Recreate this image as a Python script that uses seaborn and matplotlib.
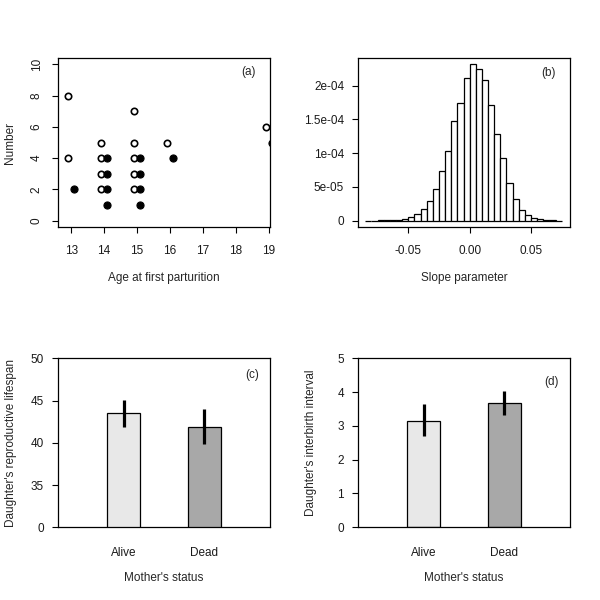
import numpy as np
import pandas as pd
import matplotlib
matplotlib.use("Agg")
import matplotlib.pyplot as plt
import seaborn as sns

sns.set_theme(style="ticks")
plt.rcParams['font.family'] = ['Liberation Sans', 'DejaVu Sans']

# ---- data ----
# (a) number vs age at first parturition
open_age = [12.9, 12.9, 13.9, 13.9, 13.9, 13.9, 14.9, 14.9, 14.9, 14.9, 14.9, 15.9, 18.9]
open_num = [8, 4, 5, 4, 3, 2, 7, 5, 4, 3, 2, 5, 6]
filled_age = [13.1, 14.1, 14.1, 14.1, 14.1, 15.1, 15.1, 15.1, 15.1, 16.1, 19.1]
filled_num = [2, 4, 3, 2, 1, 4, 3, 2, 1, 4, 5]

# (b) slope parameter histogram (bin width 0.005)
bin_edges = [round(-0.085 + 0.005 * i, 3) for i in range(33)]
bin_heights = [0.000005, 0.00001, 0.00002, 0.00004, 0.00008, 0.00015, 0.0003, 0.00054,
               0.00103, 0.00167, 0.00291, 0.00468, 0.00729, 0.01030, 0.01483, 0.01739,
               0.02108, 0.02315, 0.02251, 0.02079, 0.01709, 0.01281, 0.00931, 0.00557,
               0.00315, 0.00163, 0.00084, 0.00039, 0.00018, 0.00008, 0.00003, 0.00001]
bin_heights = [h * 1e-2 for h in bin_heights]

# (c), (d) daughters by mother's status
status = ["Alive", "Dead"]
lifespan = [43.5, 41.9]
lifespan_lo = [41.9, 39.9]
lifespan_hi = [45.1, 44.0]
interval = [3.15, 3.68]
interval_lo = [2.70, 3.32]
interval_hi = [3.64, 4.04]
bar_colors = ["#e8e8e8", "#a8a8a8"]

FS = 8.5
fig = plt.figure(figsize=(6, 6), dpi=100)
W, H = 212 / 600, 169 / 600
ax_a = fig.add_axes([58 / 600, 1 - 227 / 600, W, H])
ax_b = fig.add_axes([358 / 600, 1 - 227 / 600, W, H])
ax_c = fig.add_axes([58 / 600, 1 - 527.3 / 600, W, H])
ax_d = fig.add_axes([358 / 600, 1 - 527.3 / 600, W, H])

for ax in [ax_a, ax_b, ax_c, ax_d]:
    for sp in ax.spines.values():
        sp.set_linewidth(0.9)
        sp.set_color("black")
    ax.tick_params(length=4, width=0.8, color="black", labelsize=FS, pad=6,
                   labelcolor="#1a1a1a")
    ax.tick_params(axis="x", pad=9)

# ---- (a) ----
sns.scatterplot(x=open_age, y=open_num, ax=ax_a, marker="o", s=21,
                facecolor="white", edgecolor="black", linewidth=1.2)
sns.scatterplot(x=filled_age, y=filled_num, ax=ax_a, marker="o", s=26,
                color="black", edgecolor="black", linewidth=0.8)
ax_a.set_xlim(12.6, 19.03)
ax_a.set_ylim(-0.4, 10.4)
ax_a.set_xticks(range(13, 20))
ax_a.set_yticks(range(0, 11, 2))
ax_a.tick_params(axis="y", labelrotation=90, pad=7)
for lab in ax_a.get_yticklabels():
    lab.set_va("center")
ax_a.set_xlabel("Age at first parturition", fontsize=FS)
ax_a.set_ylabel("Number", fontsize=FS)
ax_a.xaxis.set_label_coords(0.5, -0.265)
ax_a.yaxis.set_label_coords(-0.197, 0.5)
ax_a.text(0.90, 0.915, "(a)", transform=ax_a.transAxes, fontsize=FS,
          ha="center", va="center")

# ---- (b) ----
centers = [(bin_edges[i] + bin_edges[i + 1]) / 2 for i in range(len(bin_heights))]
sns.histplot(x=centers, weights=bin_heights, bins=bin_edges, ax=ax_b,
             color="white", edgecolor="black", linewidth=0.9, alpha=1)
ax_b.set_xlim(-0.091, 0.0818)
ax_b.set_ylim(-0.0000095, 0.000241)
ax_b.set_xticks([-0.05, 0.0, 0.05])
ax_b.set_xticklabels(["-0.05", "0.00", "0.05"])
ax_b.set_yticks([0, 5e-5, 1e-4, 1.5e-4, 2e-4])
ax_b.set_yticklabels(["0", "5e-05", "1e-04", "1.5e-04", "2e-04"])
ax_b.set_xlabel("Slope parameter", fontsize=FS)
ax_b.set_ylabel("")
ax_b.xaxis.set_label_coords(0.5, -0.265)
ax_b.text(0.90, 0.91, "(b)", transform=ax_b.transAxes, fontsize=FS,
          ha="center", va="center")

# ---- (c) ----
df_c = pd.DataFrame({"status": status, "value": lifespan})
sns.barplot(data=df_c, x="status", y="value", hue="status", palette=bar_colors,
            width=0.415, edgecolor="black", linewidth=0.9, ax=ax_c, legend=False)
ax_c.vlines(x=[0, 1], ymin=lifespan_lo, ymax=lifespan_hi, color="black", lw=2.3)
ax_c.set_xlim(-0.81, 1.81)
ax_c.set_ylim(30, 50)
ax_c.set_yticks([30, 35, 40, 45, 50])
ax_c.set_yticklabels(["0", "35", "40", "45", "50"])
ax_c.tick_params(axis="x", length=0, pad=14)
ax_c.set_xlabel("Mother's status", fontsize=FS)
ax_c.set_ylabel("Daughter's reproductive lifespan", fontsize=FS)
ax_c.xaxis.set_label_coords(0.5, -0.265)
ax_c.yaxis.set_label_coords(-0.193, 0.5)
ax_c.text(0.914, 0.90, "(c)", transform=ax_c.transAxes, fontsize=FS,
          ha="center", va="center")

# ---- (d) ----
df_d = pd.DataFrame({"status": status, "value": interval})
sns.barplot(data=df_d, x="status", y="value", hue="status", palette=bar_colors,
            width=0.415, edgecolor="black", linewidth=0.9, ax=ax_d, legend=False)
ax_d.vlines(x=[0, 1], ymin=interval_lo, ymax=interval_hi, color="black", lw=2.3)
ax_d.set_xlim(-0.81, 1.81)
ax_d.set_ylim(0, 5)
ax_d.set_yticks(range(0, 6))
ax_d.tick_params(axis="x", length=0, pad=14)
ax_d.set_xlabel("Mother's status", fontsize=FS)
ax_d.set_ylabel("Daughter's interbirth interval", fontsize=FS)
ax_d.xaxis.set_label_coords(0.5, -0.265)
ax_d.yaxis.set_label_coords(-0.193, 0.5)
ax_d.text(0.914, 0.86, "(d)", transform=ax_d.transAxes, fontsize=FS,
          ha="center", va="center")

fig.savefig("out.png", dpi=100, facecolor="white")
